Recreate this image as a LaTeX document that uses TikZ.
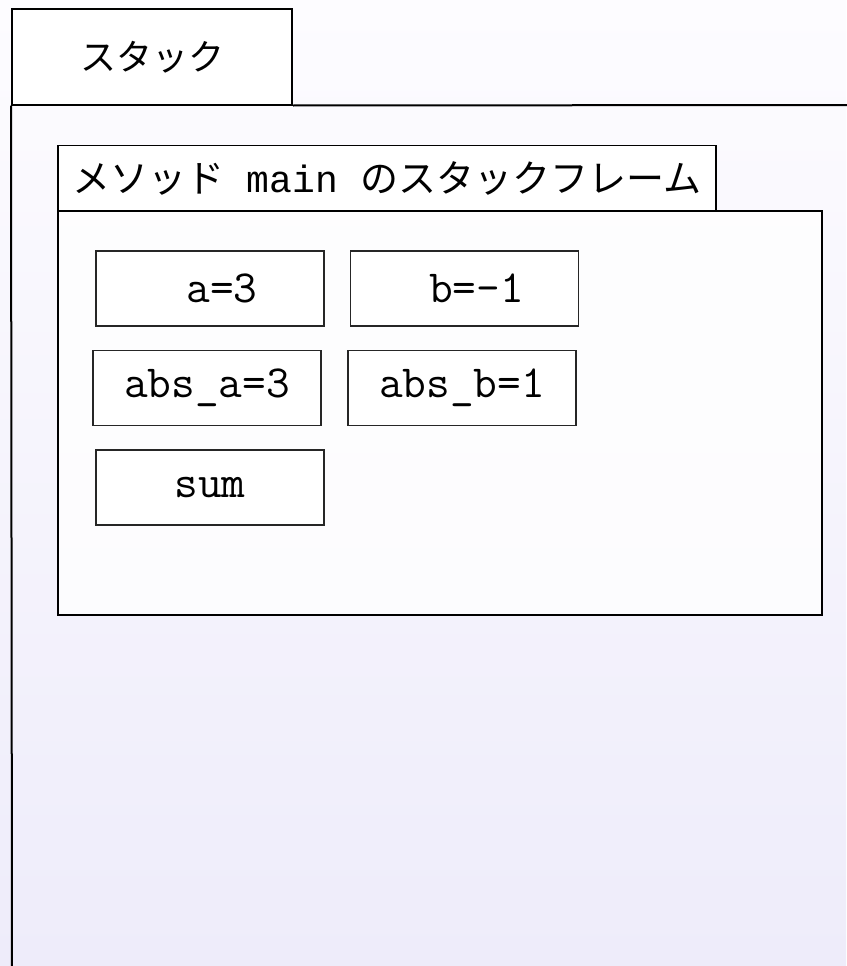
\documentclass[tikz,border=0pt]{standalone}
\usepackage{fontspec}
\newfontfamily\jfont{Noto Sans CJK JP}
\newfontfamily\mfont{Liberation Mono}
\definecolor{bgtop}{RGB}{253,252,255}
\definecolor{bgbot}{RGB}{238,236,250}
\tikzset{
  x=1pt, y=-1pt,
  tabbox/.style={draw=black, line width=2pt, fill=white, inner sep=0pt, font=\jfont\fontsize{36}{40}\selectfont},
  labtab/.style={draw=black, line width=1.5pt, fill=white, inner sep=0pt, font=\jfont\fontsize{38}{42}\selectfont},
  framebox/.style={draw=black, line width=2pt, fill=white, fill opacity=0.8, text opacity=1, inner sep=0pt},
  varbox/.style={draw=black!85, line width=1.6pt, fill=white, inner sep=0pt, minimum width=228pt, minimum height=75pt},
  vartext/.style={font=\ttfamily\fontsize{46}{50}\selectfont, inner sep=0pt},
  panel/.style={line width=2pt, draw=black}
}
\begin{document}
\begin{tikzpicture}
\useasboundingbox (0,0) rectangle (846,966);
\shade[top color=bgtop, bottom color=bgbot] (0,0) rectangle (846,966);

% outer stack tab and panel
\node[tabbox, minimum width=280pt, minimum height=95pt] (stacktab) at (152,57) {スタック};
\coordinate (panelbl) at (12,970);
\coordinate (panelr) at (850,105);
\draw[panel] (stacktab.south west) -- (panelbl);
\draw[panel] (stacktab.south east) -- (panelr);

% method frame
\node[labtab, minimum width=658pt, minimum height=65pt] (frametab) at (387,178)
  {メソッド\mfont\fontsize{38}{42}\selectfont{} main \jfont{}のスタックフレーム};
\node[framebox, minimum width=764pt, minimum height=404pt] (frame) at (440,413) {};

% variables
\node[varbox] (va) at (210,288.5) {};
\node[vartext] at ([xshift=12pt]va.center) {a=3};
\node[varbox] (vb) at (464.5,288.5) {};
\node[vartext] at ([xshift=12pt]vb.center) {b=-1};
\node[varbox, vartext, minimum width=228pt, minimum height=75pt] (vabsa) at (207,388) {abs\_a=3};
\node[varbox, vartext, minimum width=228pt, minimum height=75pt] (vabsb) at (462,388) {abs\_b=1};
\node[varbox, vartext, minimum width=228pt, minimum height=75pt] (vsum) at (210,487.5) {sum};
\end{tikzpicture}
\end{document}
